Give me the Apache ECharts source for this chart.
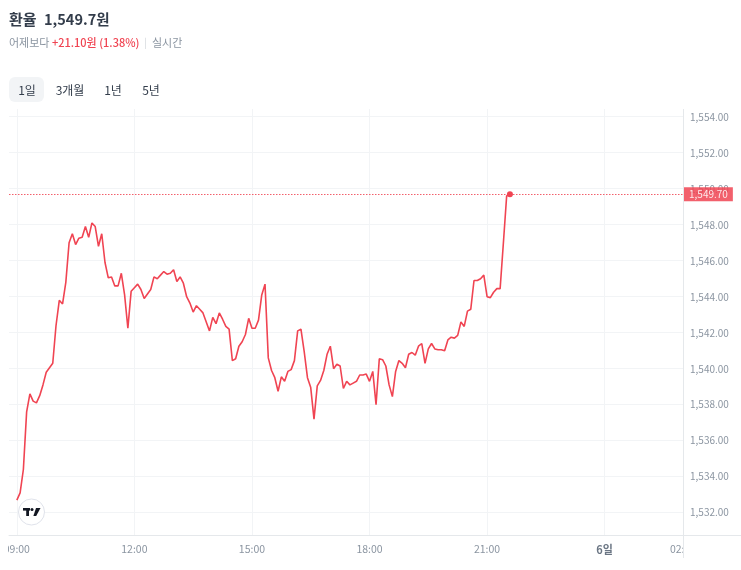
<!DOCTYPE html>
<html>
<head>
<meta charset="utf-8">
<script src="https://cdn.jsdelivr.net/npm/echarts@6/dist/echarts.min.js"></script>
<style>
html, body { margin: 0; padding: 0; background: #fff; }
#main { width: 741px; height: 570px; }
</style>
</head>
<body>
<div id="main"></div>
<script>
// 12월 5일 09:00 부터 5분 간격 환율 (x 는 5일 0시 기준 시간)
var dayOfMonth = 5;
var firstHour = 9;
var stepMinutes = 5;
var rates = [
    1532.7, 1533.1, 1534.4, 1537.6, 1538.6, 1538.2, 1538.1, 1538.5, 1539.1, 1539.8,
    1540.05, 1540.3, 1542.4, 1543.8, 1543.6, 1544.8, 1547.0, 1547.5, 1546.9, 1547.25,
    1547.3, 1547.9, 1547.3, 1548.1, 1547.9, 1546.8, 1547.5, 1545.9, 1545.05, 1545.1,
    1544.6, 1544.6, 1545.3, 1544.1, 1542.25, 1544.3, 1544.5, 1544.7, 1544.4, 1543.9,
    1544.15, 1544.4, 1545.1, 1545.0, 1545.2, 1545.4, 1545.25, 1545.3, 1545.5, 1544.85,
    1545.1, 1544.75, 1544.0, 1543.65, 1543.15, 1543.5, 1543.3, 1543.1, 1542.6, 1542.1,
    1542.85, 1542.5, 1543.1, 1542.75, 1542.35, 1542.2, 1540.45, 1540.55, 1541.25, 1541.5,
    1541.9, 1542.8, 1542.25, 1542.25, 1542.7, 1544.1, 1544.7, 1540.6, 1539.9, 1539.5,
    1538.75, 1539.55, 1539.3, 1539.85, 1539.95, 1540.45, 1542.1, 1542.2, 1540.95, 1539.5,
    1538.95, 1537.2, 1539.05, 1539.35, 1539.9, 1540.8, 1541.25, 1540.0, 1540.25, 1540.15,
    1538.9, 1539.3, 1539.1, 1539.2, 1539.3, 1539.65, 1539.65, 1539.7, 1539.3, 1539.85,
    1538.0, 1540.55, 1540.5, 1540.15, 1539.1, 1538.45, 1539.85, 1540.45, 1540.3, 1540.05,
    1540.8, 1540.9, 1540.75, 1541.25, 1541.4, 1540.3, 1541.1, 1541.4, 1541.1, 1541.05,
    1541.05, 1541.0, 1541.6, 1541.75, 1541.7, 1541.85, 1542.6, 1542.35, 1543.2, 1543.3,
    1544.9, 1544.9, 1545.0, 1545.2, 1544.0, 1543.95, 1544.25, 1544.45, 1544.45, 1547.0,
    1549.6, 1549.7
];
var prevClose = 1528.60;
var tickHours = [9, 12, 15, 18, 21, 24, 26];
var rateTicks = [1532, 1534, 1536, 1538, 1540, 1542, 1544, 1546, 1548, 1550, 1552, 1554];
var tabs = ['1일', '3개월', '1년', '5년'];

var RED = '#f04452';
var fmt = function (v, d) {
    return v.toLocaleString('en-US', { minimumFractionDigits: d, maximumFractionDigits: d });
};
var pad = function (n) { return (n < 10 ? '0' : '') + n; };

var seriesData = rates.map(function (r, i) {
    return [firstHour + i * stepMinutes / 60, r];
});
var last = seriesData[seriesData.length - 1];
var change = last[1] - prevClose;

var myChart = echarts.init(document.getElementById('main'));

var tabX = [27, 70, 113, 151];
var tabGraphics = [{
    type: 'rect', left: 9, top: 77, z: 10,
    shape: { width: 35, height: 25, r: 6 },
    style: { fill: '#f2f4f6' }
}];
tabs.forEach(function (t, i) {
    tabGraphics.push({
        type: 'text', x: tabX[i], y: 90, z: 11,
        style: {
            text: t, fill: '#333d4b', align: 'center', verticalAlign: 'middle',
            font: '12px "Noto Sans CJK KR"'
        }
    });
});

var option = {
    animation: false,
    backgroundColor: '#fff',
    textStyle: { fontFamily: '"Noto Sans CJK KR", "Noto Sans", sans-serif' },
    grid: { left: 9, right: 58, top: 109, bottom: 35 },
    xAxis: {
        type: 'value',
        min: 8.8,
        max: 26,
        axisLine: { show: true, lineStyle: { color: '#e5e8eb' } },
        axisTick: { show: false, customValues: tickHours },
        splitLine: { show: true, lineStyle: { color: '#f2f4f6' } },
        axisLabel: {
            customValues: tickHours,
            color: '#8b95a1',
            fontSize: 10.5,
            margin: 9,
            formatter: function (v) {
                var h = Math.floor(v), m = Math.round((v - h) * 60);
                if (h === 24 && m === 0) {
                    return '{day|' + (dayOfMonth + 1) + '일}';
                }
                return pad(h % 24) + ':' + pad(m);
            },
            rich: { day: { color: '#6b7684', fontWeight: 'bold', fontSize: 11 } }
        }
    },
    yAxis: {
        type: 'value',
        position: 'right',
        min: 1530.76,
        max: 1554.43,
        axisLine: { show: false },
        axisTick: { show: false, customValues: rateTicks },
        splitLine: { show: true, lineStyle: { color: '#f2f4f6' } },
        axisLabel: {
            customValues: rateTicks,
            color: '#8b95a1',
            fontSize: 10,
            margin: 7,
            formatter: function (v) { return fmt(v, 2); }
        }
    },
    series: [{
        type: 'line',
        data: seriesData,
        symbol: 'none',
        lineStyle: { color: RED, width: 1.6 },
        itemStyle: { color: RED },
        z: 3,
        markPoint: {
            silent: true,
            symbol: 'circle',
            symbolSize: 6,
            itemStyle: { color: RED },
            label: { show: false },
            data: [{ coord: last }]
        },
        markLine: {
            silent: true,
            symbol: 'none',
            itemStyle: { color: RED },
            lineStyle: { color: RED, type: [1.5, 1.5], width: 1, opacity: 0.85 },
            label: {
                position: 'end',
                distance: 1,
                formatter: function (p) { return fmt(p.value, 2); },
                color: '#fff',
                backgroundColor: RED,
                fontSize: 10,
                lineHeight: 12,
                padding: [1, 5, 1, 5]
            },
            data: [{ yAxis: last[1], lineStyle: { color: RED } }]
        }
    }],
    graphic: [
        {
            type: 'text', left: 9, top: 12, z: 10,
            style: { text: '환율', fill: '#333d4b', font: 'bold 15px "Noto Sans CJK KR"' }
        },
        {
            type: 'text', left: 44, top: 12, z: 10,
            style: { text: fmt(last[1], 1) + '원', fill: '#333d4b', font: 'bold 14.5px "Noto Sans CJK KR"' }
        },
        {
            type: 'text', left: 9, top: 37, z: 10,
            style: {
                text: '{g|어제보다} {r|+' + fmt(change, 2) + '원 (' + (change / prevClose * 100).toFixed(2) + '%)}  {s||}  {g|실시간}',
                font: '11px "Noto Sans CJK KR"',
                rich: {
                    g: { fill: '#8b95a1', font: '11px "Noto Sans CJK KR"' },
                    r: { fill: RED, font: '500 11px "Noto Sans CJK KR"' },
                    s: { fill: '#d1d6db', font: '10px "Noto Sans CJK KR"' }
                }
            }
        }
    ].concat(tabGraphics).concat([
        // 축 라벨 잘림 흉내
        { type: 'rect', left: 0, top: 537, z: 100, shape: { width: 8, height: 25 }, style: { fill: '#fff' } },
        { type: 'rect', left: 684, top: 537, z: 100, shape: { width: 57, height: 25 }, style: { fill: '#fff' } },
        { type: 'line', z: 101, shape: { x1: 683.5, y1: 109, x2: 683.5, y2: 558 }, style: { stroke: '#e5e8eb', lineWidth: 1 } },
        { type: 'line', z: 101, shape: { x1: 683, y1: 535.5, x2: 741, y2: 535.5 }, style: { stroke: '#e5e8eb', lineWidth: 1 } },
        {
            type: 'circle', z: 20,
            shape: { cx: 31.5, cy: 512, r: 13 },
            style: { fill: '#fff', stroke: '#e0e3eb', lineWidth: 1 }
        },
        // 트레이딩뷰 로고
        { type: 'rect', z: 21, shape: { x: 23, y: 508, width: 7, height: 2.6 }, style: { fill: '#131722' } },
        { type: 'rect', z: 21, shape: { x: 26.2, y: 508, width: 2.8, height: 8 }, style: { fill: '#131722' } },
        { type: 'circle', z: 21, shape: { cx: 32, cy: 509.4, r: 1.5 }, style: { fill: '#131722' } },
        { type: 'polygon', z: 21, shape: { points: [[36, 508], [40.5, 508], [36.2, 516], [33.4, 516]] }, style: { fill: '#131722' } }
    ])
};

myChart.setOption(option);
window.addEventListener('resize', function () {
    myChart.resize();
});
</script>
</body>
</html>
